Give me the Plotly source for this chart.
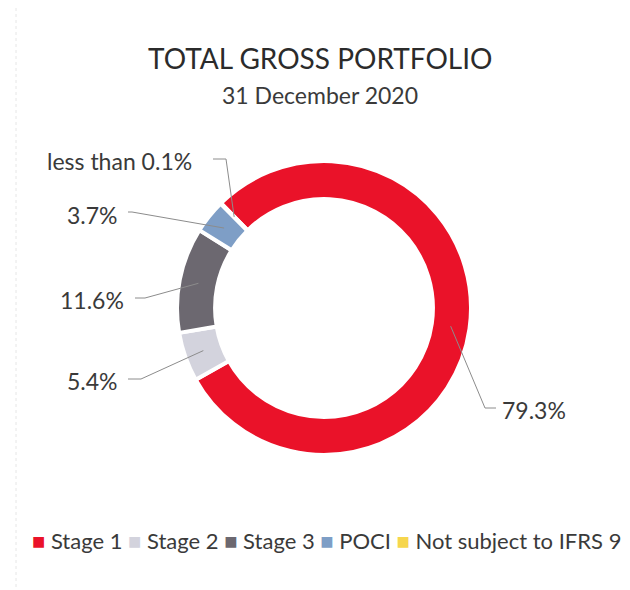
import math
import plotly.graph_objects as go

# ---------------- data ----------------
categories = ["Stage 1", "Stage 2", "Stage 3", "POCI", "Not subject to IFRS 9"]
values = [79.3, 5.4, 11.6, 3.7, 0.05]
value_labels = ["79.3%", "5.4%", "11.6%", "3.7%", "less than 0.1%"]
colors = ["#EA1229", "#D3D3DD", "#6C6870", "#7E9EC6", "#F6D64E"]
title_text = "TOTAL GROSS PORTFOLIO"
subtitle_text = "31 December 2020"

# ---------------- layout constants (pixels) ----------------
W, H = 630, 590
CX, CY, R = 316, 300, 147          # pie centre / radius in px (from top-left)
HOLE = 0.741
ROTATION = 315.5
FONT = "Lato, 'Open Sans', sans-serif"
TEXT_COLOR = "#3a3a3a"
LINE_COLOR = "#8c8c8c"

# label placement per category: (label x, label y, anchor side, elbow x, elbow y, line start x)
label_layout = {
    "Stage 1": (492, 402, "left", 477, 400, 488),
    "Stage 2": (112, 373, "right", 133, 371, 120),
    "Stage 3": (118, 292, "right", 137, 290, 127),
    "POCI": (112, 207, "right", 124, 204, 120),
    "Not subject to IFRS 9": (186, 153, "right", 218, 151, 205),
}


def px(x):
    return x / W


def py(y):
    return 1 - y / H


fig = go.Figure(
    go.Pie(
        labels=categories,
        values=values,
        hole=HOLE,
        sort=False,
        direction="clockwise",
        rotation=ROTATION,
        marker=dict(colors=colors, line=dict(color="white", width=4)),
        textinfo="none",
        hoverinfo="label+percent",
        showlegend=False,
        domain=dict(x=[px(CX - R), px(CX + R)], y=[py(CY + R), py(CY - R)]),
    )
)

# compute slice mid-angles from data to anchor the leader lines
total = sum(values)
angle = ROTATION
mid_r = R * (1 + HOLE) / 2
shapes = []
annotations = []
for cat, v, lab in zip(categories, values, value_labels):
    span = 360 * v / total
    mid = math.radians(angle + span / 2)
    angle += span
    ax = CX + mid_r * math.sin(mid)
    ay = CY - mid_r * math.cos(mid)
    lx, ly, side, ex, ey, sx = label_layout[cat]
    path = f"M {px(sx)} {py(ey)} L {px(ex)} {py(ey)} L {px(ax)} {py(ay)}"
    shapes.append(dict(type="path", xref="paper", yref="paper", path=path,
                       line=dict(color=LINE_COLOR, width=1)))
    annotations.append(dict(
        text=lab, x=px(lx), y=py(ly), xref="paper", yref="paper",
        xanchor="left" if side == "left" else "right", yanchor="middle",
        showarrow=False, font=dict(family=FONT, size=23, color=TEXT_COLOR)))

# title and subtitle
annotations.append(dict(text=title_text, x=px(312), y=py(50), xref="paper", yref="paper",
                        xanchor="center", yanchor="middle", showarrow=False,
                        font=dict(family=FONT, size=28, color="#2b2b2b")))
annotations.append(dict(text=subtitle_text, x=px(312), y=py(87), xref="paper", yref="paper",
                        xanchor="center", yanchor="middle", showarrow=False,
                        font=dict(family=FONT, size=23, color="#3a3a3a")))

# custom compact legend
legend_parts = [f"<span style='color:{c}'>■</span> {cat}" for cat, c in zip(categories, colors)]
annotations.append(dict(text=" ".join(legend_parts), x=px(318), y=py(532), xref="paper", yref="paper",
                        xanchor="center", yanchor="middle", showarrow=False,
                        font=dict(family=FONT, size=22, color=TEXT_COLOR)))

# faint frame lines as in the scanned original
shapes.append(dict(type="line", xref="paper", yref="paper", x0=px(8), x1=px(8), y0=py(0), y1=py(586),
                   line=dict(color="#e6e6e6", width=1, dash="dot")))
shapes.append(dict(type="line", xref="paper", yref="paper", x0=px(8), x1=px(560), y0=py(586), y1=py(586),
                   line=dict(color="#e6e6e6", width=1, dash="dot")))

fig.update_layout(
    width=W, height=H,
    margin=dict(l=0, r=0, t=0, b=0),
    paper_bgcolor="white", plot_bgcolor="white",
    shapes=shapes, annotations=annotations,
)

fig.write_html("out.html")
